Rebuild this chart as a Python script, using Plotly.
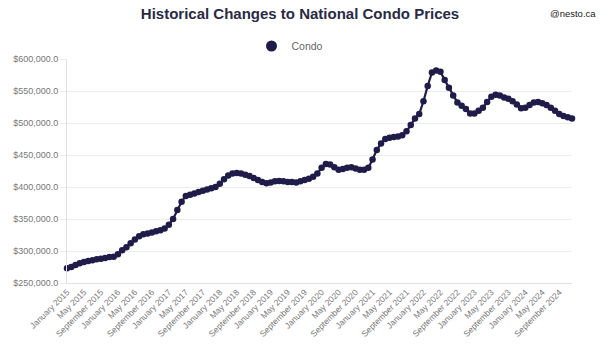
import plotly.graph_objects as go

MONTHS = ["January", "February", "March", "April", "May", "June", "July",
          "August", "September", "October", "November", "December"]
years = list(range(2015, 2025))
months = [f"{m} {y}" for y in years for m in MONTHS]

condo_prices = [
    # 2015
    273000, 275000, 278000, 281000, 283000, 284500, 285500, 287000, 288000, 289000, 290500, 291000,
    # 2016
    295000, 301000, 306000, 312000, 318000, 323000, 326000, 327500, 329000, 331000, 332500, 335000,
    # 2017
    341000, 350000, 364000, 377000, 386000, 388000, 390000, 392000, 394000, 396000, 398000, 400000,
    # 2018
    405000, 412000, 418000, 421000, 422000, 421000, 419000, 417000, 414000, 411000, 408000, 406000,
    # 2019
    407000, 409000, 409500, 409000, 408000, 408000, 407000, 409000, 411000, 413000, 416000, 421000,
    # 2020
    430000, 436000, 435000, 431000, 427000, 428000, 430000, 431000, 429000, 427000, 427000, 430000,
    # 2021
    443000, 458000, 468000, 475000, 477000, 478000, 479000, 481000, 487000, 497000, 507000, 514000,
    # 2022
    534000, 558000, 579000, 582000, 580000, 567000, 555000, 543000, 532000, 527000, 522000, 515000,
    # 2023
    515000, 519000, 524000, 533000, 541000, 544000, 543000, 540000, 538000, 534000, 529000, 523000,
    # 2024
    524000, 528000, 532000, 533000, 531000, 528000, 524000, 519000, 514000, 511000, 509000, 507000,
]

tick_labels = months[::4]
series_name = "Condo"
title_text = "Historical Changes to National Condo Prices"
credit_text = "@nesto.ca"

navy = "#1f1c4a"
FONT = "Liberation Sans, Arial, Helvetica, sans-serif"

W, H = 605, 357
ML, MR, MT, MB = 67, 33, 59, 74
PW, PH = W - ML - MR, H - MT - MB

fig = go.Figure()
fig.add_trace(go.Scatter(
    x=months, y=condo_prices, mode="lines+markers",
    line=dict(color=navy, width=2.2),
    marker=dict(color=navy, size=6.5),
    cliponaxis=False, showlegend=False, name=series_name,
))
# legend-only entry (circle symbol like the reference)
fig.add_trace(go.Scatter(
    x=[None], y=[None], mode="markers",
    marker=dict(color=navy, size=11), name=series_name, showlegend=True,
))

fig.update_layout(
    width=W, height=H,
    margin=dict(l=ML, r=MR, t=MT, b=MB, autoexpand=False),
    paper_bgcolor="white", plot_bgcolor="white",
    font=dict(family=FONT, size=9, color="#666666"),
    title=dict(text=f"<b>{title_text}</b>", x=(300 - ML) / PW, xanchor="center",
               xref="paper", y=1 - 14 / H, yanchor="middle", automargin=False,
               font=dict(family=FONT, size=15, color="#2a2a45")),
    legend=dict(orientation="h", x=(290 - ML) / PW, xanchor="center",
                y=(H - MB - 46) / PH, yref="paper", yanchor="middle",
                font=dict(size=10.5, color="#666666"),
                bgcolor="rgba(0,0,0,0)"),
    annotations=[dict(text=credit_text, xref="paper", yref="paper",
                      x=(598 - ML) / PW, y=(H - MB - 13) / PH,
                      xanchor="right", yanchor="middle", showarrow=False,
                      font=dict(family=FONT, size=9.5, color="#222222"))],
    xaxis=dict(type="category", range=[0, len(months) - 1], automargin=False,
               tickmode="array", tickvals=tick_labels, ticktext=tick_labels,
               tickangle=-45, showgrid=False, zeroline=False,
               ticks="", tickfont=dict(size=8.5, color="#777777"),
               showline=True, linecolor="#e0e0e0", linewidth=1),
    yaxis=dict(range=[250000, 600000], automargin=False,
               tickvals=[250000, 300000, 350000, 400000,
                         450000, 500000, 550000, 600000],
               tickformat="$,.1f", showgrid=True, gridcolor="#ececec",
               gridwidth=1, zeroline=False,
               ticks="outside", ticklen=6, tickcolor="#ececec",
               tickfont=dict(size=9, color="#777777"),
               showline=True, linecolor="#e0e0e0", linewidth=1),
)

fig.write_html(
    "out.html",
    config={"displayModeBar": False},
    post_script="document.body.style.margin='0';document.body.style.overflow='hidden';",
)
